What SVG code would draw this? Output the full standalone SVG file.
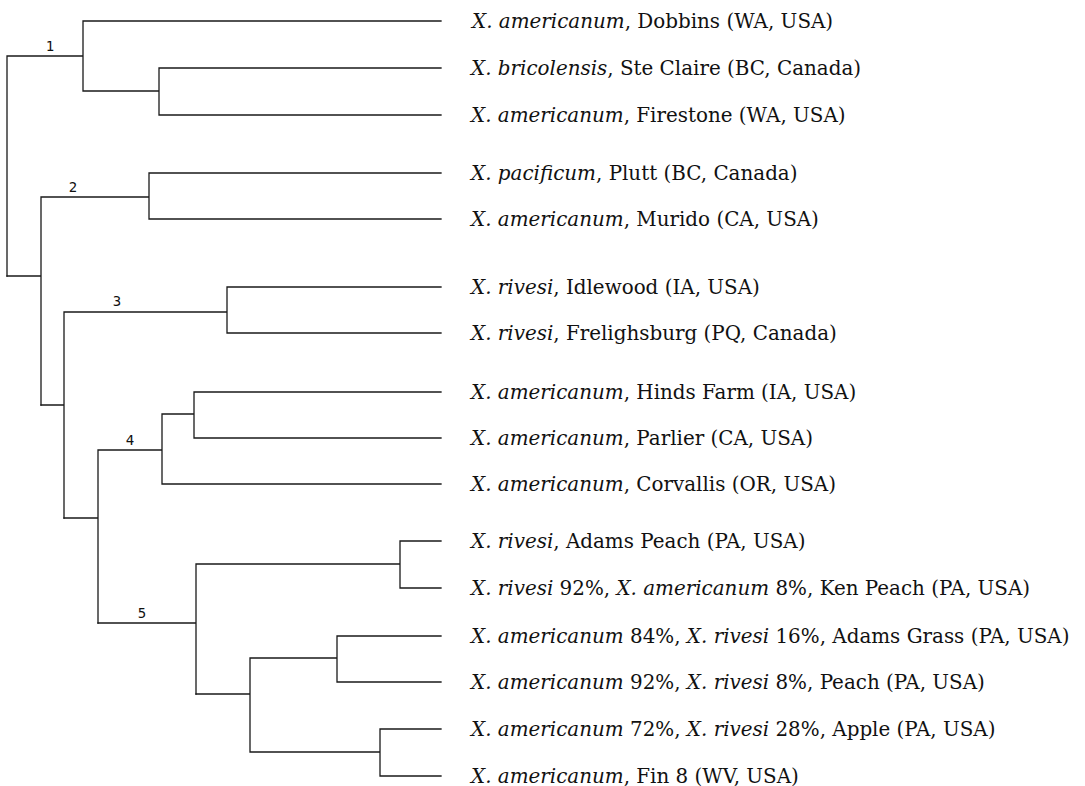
<svg xmlns="http://www.w3.org/2000/svg" width="1085" height="786" viewBox="0 0 1085 786">
<style>
.br{fill:none;stroke:#1a1a1a;stroke-width:1.3;stroke-linecap:square}
.lb{font-family:"DejaVu Serif","Liberation Serif",serif;font-size:19.9px;fill:#111}
.sp{font-style:italic}
.num{font-family:"DejaVu Sans Mono","Liberation Mono",monospace;font-size:14px;fill:#111;text-anchor:middle}
</style>
<rect width="1085" height="786" fill="#fff"/>
<g id="connectors" class="br">
<path d="M7,56V276M7,56H83M83,21V91M83,21H441M83,91H159M159,68V115M159,68H441M159,115H441"/>
<path d="M7,276H41M41,197V405M41,197H149M149,173V219M149,173H441M149,219H441"/>
<path d="M41,405H64M64,312V518M64,312H227M227,287V333M227,287H441M227,333H441"/>
<path d="M64,518H98M98,450V623M98,450H162M162,414V484M162,414H194M194,392V438M194,392H441M194,438H441M162,484H441"/>
<path d="M98,623H196M196,564V694M196,564H400M400,541V588M400,541H441M400,588H441"/>
<path d="M196,694H250M250,658V752M250,658H337M337,636V682M337,636H441M337,682H441M250,752H380M380,729V776M380,729H441M380,776H441"/>
</g>
<g id="clade-labels">
<text class="num" x="50" y="51">1</text>
<text class="num" x="73" y="192">2</text>
<text class="num" x="117" y="306">3</text>
<text class="num" x="130" y="445">4</text>
<text class="num" x="142" y="618">5</text>
</g>
<g id="leaf-dobbins"><text class="lb" x="472" y="28"><tspan class="sp">X. americanum</tspan>, Dobbins (WA, USA)</text></g>
<g id="leaf-steclaire"><text class="lb" x="471" y="75"><tspan class="sp">X. bricolensis</tspan>, Ste Claire (BC, Canada)</text></g>
<g id="leaf-firestone"><text class="lb" x="471" y="122"><tspan class="sp">X. americanum</tspan>, Firestone (WA, USA)</text></g>
<g id="leaf-plutt"><text class="lb" x="471" y="180"><tspan class="sp">X. pacificum</tspan>, Plutt (BC, Canada)</text></g>
<g id="leaf-murido"><text class="lb" x="471" y="226"><tspan class="sp">X. americanum</tspan>, Murido (CA, USA)</text></g>
<g id="leaf-idlewood"><text class="lb" x="471" y="294"><tspan class="sp">X. rivesi</tspan>, Idlewood (IA, USA)</text></g>
<g id="leaf-frelighsburg"><text class="lb" x="471" y="340"><tspan class="sp">X. rivesi</tspan>, Frelighsburg (PQ, Canada)</text></g>
<g id="leaf-hindsfarm"><text class="lb" x="471" y="399"><tspan class="sp">X. americanum</tspan>, Hinds Farm (IA, USA)</text></g>
<g id="leaf-parlier"><text class="lb" x="471" y="445"><tspan class="sp">X. americanum</tspan>, Parlier (CA, USA)</text></g>
<g id="leaf-corvallis"><text class="lb" x="471" y="491"><tspan class="sp">X. americanum</tspan>, Corvallis (OR, USA)</text></g>
<g id="leaf-adamspeach"><text class="lb" x="471" y="548"><tspan class="sp">X. rivesi</tspan>, Adams Peach (PA, USA)</text></g>
<g id="leaf-kenpeach"><text class="lb" x="471" y="595"><tspan class="sp">X. rivesi</tspan> 92%, <tspan class="sp">X. americanum</tspan> 8%, Ken Peach (PA, USA)</text></g>
<g id="leaf-adamsgrass"><text class="lb" x="471" y="643"><tspan class="sp">X. americanum</tspan> 84%, <tspan class="sp">X. rivesi</tspan> 16%, Adams Grass (PA, USA)</text></g>
<g id="leaf-peach"><text class="lb" x="471" y="689"><tspan class="sp">X. americanum</tspan> 92%, <tspan class="sp">X. rivesi</tspan> 8%, Peach (PA, USA)</text></g>
<g id="leaf-apple"><text class="lb" x="471" y="736"><tspan class="sp">X. americanum</tspan> 72%, <tspan class="sp">X. rivesi</tspan> 28%, Apple (PA, USA)</text></g>
<g id="leaf-fin8"><text class="lb" x="471" y="783"><tspan class="sp">X. americanum</tspan>, Fin 8 (WV, USA)</text></g>
</svg>
